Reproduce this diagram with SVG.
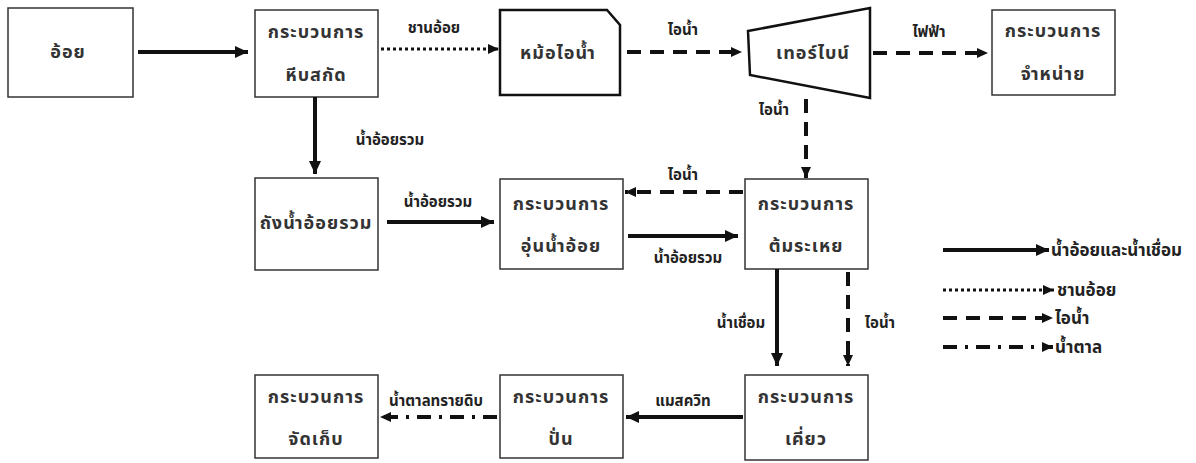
<svg xmlns="http://www.w3.org/2000/svg" width="1196" height="463" viewBox="0 0 1196 463">
<style>
.box{fill:#fff;stroke:#333;stroke-width:1.5}
.eq{fill:#fff;stroke:#111;stroke-width:2.5;stroke-linejoin:miter}
.bt{font-family:"Noto Sans Thai","Noto Sans","DejaVu Sans",sans-serif;font-size:18px;font-weight:bold;fill:#333;text-anchor:middle;letter-spacing:1px}
.lb{font-family:"Noto Sans Thai","Noto Sans","DejaVu Sans",sans-serif;font-size:15px;font-weight:bold;fill:#222;text-anchor:middle}
.lg{font-family:"Noto Sans Thai","Noto Sans","DejaVu Sans",sans-serif;font-size:17px;font-weight:bold;fill:#222;text-anchor:start}
.c{fill:none;stroke:#111;stroke-width:4}
.solid{marker-end:url(#ah)}
.dash{stroke-dasharray:14 9;marker-end:url(#ahs)}
.dot{stroke-width:3;stroke-dasharray:3 3;marker-end:url(#ahs)}
.dd{stroke-dasharray:14 8 3 8;marker-end:url(#ahs)}
</style>
<defs>
<marker id="ah" markerUnits="userSpaceOnUse" markerWidth="14" markerHeight="12" refX="13" refY="6" orient="auto">
<path d="M0,0 L13,6 L0,12 z" fill="#111"/>
</marker>
<marker id="ahs" markerUnits="userSpaceOnUse" markerWidth="12" markerHeight="12" refX="11" refY="6" orient="auto">
<path d="M0,1 L11,6 L0,11 z" fill="#111"/>
</marker>
</defs>
<rect width="1196" height="463" fill="#fff"/>

<g id="n-oi"><rect class="box" x="8" y="8" width="125" height="89"/><text class="bt" x="68" y="58">อ้อย</text></g>
<g id="n-heeb"><rect class="box" x="255" y="10" width="123" height="87"/><text class="bt" x="316" y="38">กระบวนการ</text><text class="bt" x="316" y="81">หีบสกัด</text></g>
<g id="n-boiler"><path class="eq" d="M500,10 L607,10 L620,25 L620,95 L500,95 Z"/><text class="bt" x="558" y="59">หม้อไอน้ำ</text></g>
<g id="n-turbine"><path class="eq" d="M748,31 L870,8 L870,98 L750,75 Z"/><text class="bt" x="813" y="59">เทอร์ไบน์</text></g>
<g id="n-sell"><rect class="box" x="992" y="10" width="123" height="85"/><text class="bt" x="1053" y="37">กระบวนการ</text><text class="bt" x="1053" y="80">จำหน่าย</text></g>
<g id="n-tank"><rect class="box" x="255" y="178" width="123" height="92"/><text class="bt" x="316" y="229">ถังน้ำอ้อยรวม</text></g>
<g id="n-warm"><rect class="box" x="500" y="179" width="123" height="90"/><text class="bt" x="561" y="210">กระบวนการ</text><text class="bt" x="561" y="252">อุ่นน้ำอ้อย</text></g>
<g id="n-evap"><rect class="box" x="745" y="179" width="123" height="90"/><text class="bt" x="806" y="210">กระบวนการ</text><text class="bt" x="806" y="252">ต้มระเหย</text></g>
<g id="n-boil"><rect class="box" x="745" y="375" width="123" height="85"/><text class="bt" x="806" y="403">กระบวนการ</text><text class="bt" x="806" y="445">เคี่ยว</text></g>
<g id="n-spin"><rect class="box" x="500" y="375" width="123" height="83"/><text class="bt" x="561" y="403">กระบวนการ</text><text class="bt" x="561" y="445">ปั่น</text></g>
<g id="n-store"><rect class="box" x="255" y="375" width="123" height="83"/><text class="bt" x="316" y="403">กระบวนการ</text><text class="bt" x="316" y="445">จัดเก็บ</text></g>

<g id="connectors">
<line class="c solid" x1="138" y1="52" x2="248" y2="52"/>
<line class="c dot" x1="381" y1="49" x2="499" y2="49"/>
<text class="lb" x="434" y="33">ชานอ้อย</text>
<line class="c dash" x1="627" y1="52" x2="742" y2="52"/>
<text class="lb" x="683" y="35">ไอน้ำ</text>
<line class="c dash" x1="873" y1="53" x2="988" y2="53"/>
<text class="lb" x="929" y="37">ไฟฟ้า</text>
<line class="c solid" x1="315" y1="97" x2="315" y2="174"/>
<text class="lb" x="390" y="145">น้ำอ้อยรวม</text>
<line class="c dash" x1="806" y1="99" x2="806" y2="178"/>
<text class="lb" x="774" y="115">ไอน้ำ</text>
<line class="c solid" x1="387" y1="222" x2="494" y2="222"/>
<text class="lb" x="438" y="207">น้ำอ้อยรวม</text>
<line class="c dash" x1="743" y1="192" x2="625" y2="192"/>
<text class="lb" x="683" y="180">ไอน้ำ</text>
<line class="c solid" x1="628" y1="236" x2="738" y2="236"/>
<text class="lb" x="688" y="263">น้ำอ้อยรวม</text>
<line class="c solid" x1="777" y1="269" x2="777" y2="366"/>
<text class="lb" x="741" y="328">น้ำเชื่อม</text>
<line class="c dash" x1="848" y1="272" x2="848" y2="366"/>
<text class="lb" x="880" y="328">ไอน้ำ</text>
<line class="c solid" x1="743" y1="417" x2="626" y2="417"/>
<text class="lb" x="683" y="406">แมสควิท</text>
<line class="c dd" x1="497" y1="417" x2="380" y2="417"/>
<text class="lb" x="436" y="406">น้ำตาลทรายดิบ</text>
</g>

<g id="legend">
<line class="c solid" x1="943" y1="250" x2="1049" y2="250"/>
<text class="lg" x="1051" y="256">น้ำอ้อยและน้ำเชื่อม</text>
<line class="c dot" x1="943" y1="290" x2="1054" y2="290"/>
<text class="lg" x="1057" y="296">ชานอ้อย</text>
<line class="c dash" x1="943" y1="318" x2="1053" y2="318"/>
<text class="lg" x="1055" y="324">ไอน้ำ</text>
<line class="c dd" x1="943" y1="347" x2="1053" y2="347"/>
<text class="lg" x="1055" y="353">น้ำตาล</text>
</g>
</svg>
